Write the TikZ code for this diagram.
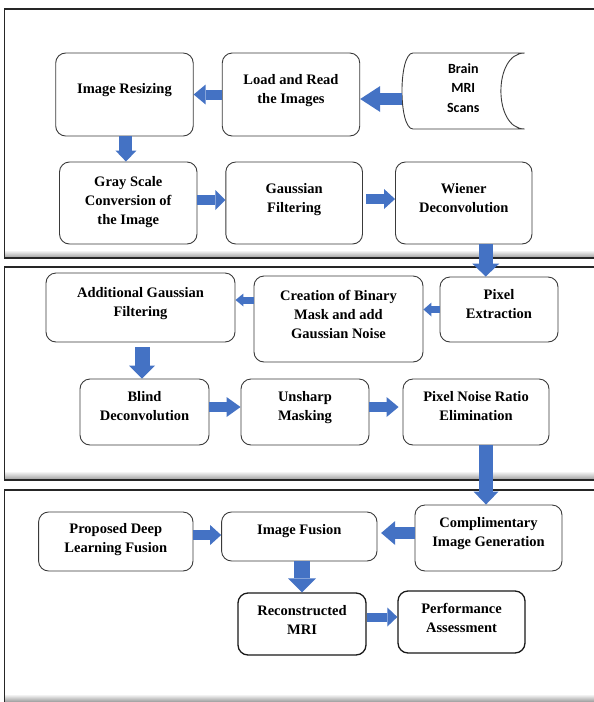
\documentclass[tikz,border=0pt]{standalone}
\usepackage{fontspec}
\setmainfont{Liberation Serif}
\newfontfamily\scanfont{Carlito}
\usepackage{tikz}
\usetikzlibrary{arrows.meta, positioning, calc}
\definecolor{flowblue}{HTML}{4472C4}
\definecolor{boxgray}{HTML}{3A3A3A}
\newcommand{\dstrut}[1][12pt]{\rule[-#1]{0pt}{#1}}
\pgfdeclareradialshading{glow}{\pgfpointorigin}{color(0bp)=(white); color(38bp)=(white); color(50bp)=(black!30)}
\tikzstyle{stage} = [rectangle, rounded corners=10pt, draw=boxgray, line width=0.9pt, align=center, inner sep=0pt, font=\rmfamily\bfseries\fontsize{14.5}{19}\selectfont]

\begin{document}
\begin{tikzpicture}[x=1pt, y=-1pt]
    \tikzstyle{panel} = [draw=black!85, line width=1.3pt]
    \tikzstyle{rim} = [top color=white, bottom color=black!40, draw=none]
    \tikzstyle{result} = [stage, shade, shading=glow, line width=1.3pt, draw=black!90]
    \tikzstyle{scanbox} = [rectangle, inner sep=0pt, align=center, minimum width=122.6pt, minimum height=76pt, font=\scanfont\bfseries\fontsize{14}{19.5}\selectfont]
    \tikzset{flow/.style n args={3}{draw=flowblue, line width=#1, -{Triangle[width=#2, length=#3, line width=0pt]}}}

    \useasboundingbox (0,0) rectangle (594,702);
    \clip (0,0) rectangle (594,702);

    % three stage panels
    \shade[rim] (4.5,250) rectangle (610,258);
    \shade[rim] (4.5,471) rectangle (610,480);
    \shade[rim] (4.5,694) rectangle (610,702);
    \draw[panel] (4.5,9) rectangle (610,258);
    \draw[panel] (4.5,267) rectangle (610,480);
    \draw[panel] (4.5,490) rectangle (610,704);

    % panel 1
    \node[scanbox] (scans) at (463.3,91) {Brain\\MRI\\Scans\dstrut[6pt]};
    \draw[draw=boxgray, line width=0.9pt] (413,53) -- (524.6,53) .. controls (493,53) and (493,129) .. (524.6,129) -- (413,129) .. controls (398.3,129) and (398.3,53) .. cycle;
    \node[stage, minimum width=137.5pt, minimum height=83pt] (load) at (291,94.5) {Load and Read\\the Images\dstrut};
    \node[stage, minimum width=137.5pt, minimum height=83pt] (resize) at (124.45,94.5) {Image Resizing\dstrut[13pt]};
    \node[stage, minimum width=137.5pt, minimum height=82pt] (gray) at (128.25,203) {Gray Scale\\Conversion of\\the Image\dstrut[6pt]};
    \node[stage, minimum width=136.7pt, minimum height=82pt] (gauss) at (294.15,203) {Gaussian\\Filtering\dstrut[11pt]};
    \node[stage, minimum width=136.5pt, minimum height=82pt] (wiener) at (463.75,203) {Wiener\\Deconvolution\dstrut[10pt]};

    % panel 2
    \node[stage, minimum width=118pt, minimum height=65pt] (pixel) at (499,309.5) {Pixel\\Extraction\dstrut[11pt]};
    \node[stage, minimum width=169pt, minimum height=86pt] (creation) at (338.5,319) {Creation of Binary\\Mask and add\\Gaussian Noise\dstrut[10pt]};
    \node[stage, minimum width=189pt, minimum height=69pt] (additional) at (140.5,307.5) {Additional Gaussian\\Filtering\dstrut[11pt]};
    \node[stage, minimum width=129pt, minimum height=66pt] (blind) at (144.5,412) {Blind\\Deconvolution\dstrut};
    \node[stage, minimum width=128pt, minimum height=66pt] (unsharp) at (305,412) {Unsharp\\Masking\dstrut};
    \node[stage, minimum width=146pt, minimum height=66pt] (pnr) at (476,412) {Pixel Noise Ratio\\Elimination\dstrut};

    % panel 3
    \node[stage, minimum width=147pt, minimum height=66pt] (compl) at (488.5,538) {Complimentary\\Image Generation\dstrut};
    \node[stage, minimum width=155.4pt, minimum height=49pt] (fusion) at (299.3,536.5) {Image Fusion\dstrut[15pt]};
    \node[stage, minimum width=154.4pt, minimum height=59pt] (proposed) at (115.8,541.5) {Proposed Deep\\Learning Fusion\dstrut[7pt]};
    \node[result, minimum width=128pt, minimum height=62pt] (rec) at (302,624) {Reconstructed\\MRI\dstrut[8pt]};
    \node[result, minimum width=127pt, minimum height=62pt] (perf) at (461.5,622) {Performance\\Assessment\dstrut[8pt]};

    % block arrows
    \draw[flow={12pt}{26pt}{20pt}] ([yshift=-8pt]scans.west) -- ([yshift=-8pt]scans.west -| load.east);
    \draw[flow={10pt}{20pt}{12pt}] (load.west) -- (resize.east);
    \draw[flow={13pt}{21pt}{11pt}] ([xshift=1.5pt]resize.south) -- ([xshift=1.5pt]resize.south |- gray.north);
    \draw[flow={10pt}{20pt}{10pt}] ([yshift=3pt]gray.east) -- ([yshift=3pt]gray.east -| gauss.west);
    \draw[flow={10pt}{20pt}{11pt}] ([shift={(3.5pt,4pt)}]gauss.east) -- ([yshift=4pt]gauss.east -| wiener.west);
    \draw[flow={14pt}{27pt}{13pt}] ([xshift=22pt]wiener.south) -- ([xshift=22pt]wiener.south |- pixel.north);
    \draw[flow={7pt}{14pt}{8pt}] (pixel.west) -- (pixel.west -| creation.east);
    \draw[flow={7pt}{13pt}{8pt}] ([yshift=19pt]creation.west) -- ([yshift=19pt]creation.west -| additional.east);
    \draw[flow={15pt}{26pt}{13pt}] ([shift={(1.5pt,-5pt)}]additional.south) -- ([xshift=1.5pt]additional.south |- blind.north);
    \draw[flow={10pt}{20pt}{14pt}] ([yshift=5pt]blind.east) -- ([yshift=5pt]blind.east -| unsharp.west);
    \draw[flow={10pt}{20pt}{12pt}] ([yshift=5pt]unsharp.east) -- ([shift={(-4pt,5pt)}]pnr.west);
    \draw[flow={14pt}{25pt}{13pt}] ([xshift=10pt]pnr.south) -- ([xshift=10pt]pnr.south |- compl.north);
    \draw[flow={10pt}{20pt}{11pt}] ([yshift=6.5pt]proposed.east) -- ([yshift=6.5pt]proposed.east -| fusion.west);
    \draw[flow={12pt}{24pt}{14pt}] ([yshift=5pt]compl.west) -- ([shift={(3.7pt,3.5pt)}]fusion.east);
    \draw[flow={16pt}{28pt}{14pt}] ([xshift=2.7pt]fusion.south) -- ([xshift=2.7pt]fusion.south |- rec.north);
    \draw[flow={9pt}{19pt}{10pt}] ([yshift=7pt]rec.east) -- ([yshift=7pt]rec.east -| perf.west);
\end{tikzpicture}
\end{document}
